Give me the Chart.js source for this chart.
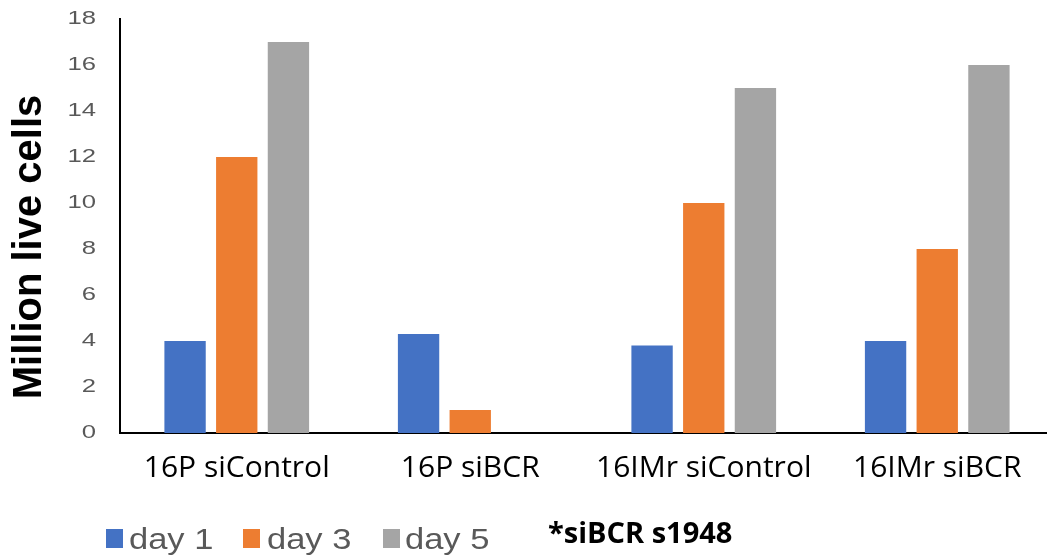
<!DOCTYPE html>
<html>
<head>
<meta charset="utf-8">
<script src="https://cdn.jsdelivr.net/npm/chart.js@4.4.1/dist/chart.umd.min.js"></script>
<style>
  html, body { margin: 0; padding: 0; background: #ffffff; overflow: hidden; }
  #wrap { position: relative; width: 1054px; height: 557px; }
  canvas { display: block; }
</style>
</head>
<body>
<div id="wrap"><canvas id="c" width="1054" height="557"></canvas></div>
<script>
// Cell counts (millions of live cells) per condition and day
const categories = ['16P siControl', '16P siBCR', '16IMr siControl', '16IMr siBCR'];
const day1 = [4, 4.3, 3.8, 4];
const day3 = [12, 1, 10, 8];
const day5 = [17, 0, 15, 16];
const seriesNames = ['day 1', 'day 3', 'day 5'];
const seriesColors = ['#4472C4', '#ED7D31', '#A5A5A5'];
const yMin = 0, yMax = 18, yStep = 2;
const yTitle = 'Million live cells';
const noteText = '*siBCR s1948';

// Y tick labels, drawn horizontally widened
const yLabels = {
  id: 'yLabels',
  afterDraw(chart) {
    const s = chart.scales.y, ctx = chart.ctx;
    ctx.save();
    ctx.font = '19px "Liberation Sans", Arial, sans-serif';
    ctx.fillStyle = '#595959';
    ctx.textAlign = 'right';
    ctx.textBaseline = 'middle';
    s.ticks.forEach(t => {
      ctx.save();
      ctx.translate(96, s.getPixelForValue(t.value));
      ctx.scale(1.35, 1);
      ctx.fillText(String(t.value), 0, 0);
      ctx.restore();
    });
    ctx.restore();
  }
};

// Rotated axis title
const yTitlePlugin = {
  id: 'yTitlePlugin',
  afterDraw(chart) {
    const ctx = chart.ctx;
    ctx.save();
    ctx.translate(30, 247);
    ctx.rotate(-Math.PI / 2);
    ctx.font = 'bold 40px "Liberation Sans", Arial, sans-serif';
    ctx.fillStyle = '#000000';
    ctx.textAlign = 'center';
    ctx.textBaseline = 'middle';
    ctx.fillText(yTitle, 0, 0);
    ctx.restore();
  }
};

// Legend row and the siRNA note beneath the plot
const legendRow = {
  id: 'legendRow',
  afterDraw(chart) {
    const ctx = chart.ctx;
    const boxX = [106, 243, 383];
    const textX = [129, 267, 405];
    ctx.save();
    chart.data.datasets.forEach((ds, i) => {
      ctx.fillStyle = ds.backgroundColor;
      ctx.fillRect(boxX[i], 529, 17, 19);
      ctx.save();
      ctx.translate(textX[i], 549);
      ctx.scale(1.15, 1);
      ctx.font = '30px "Liberation Sans", Arial, sans-serif';
      ctx.fillStyle = '#595959';
      ctx.textAlign = 'left';
      ctx.textBaseline = 'alphabetic';
      ctx.fillText(ds.label, 0, 0);
      ctx.restore();
    });
    ctx.font = 'bold 29px "Open Sans", sans-serif';
    ctx.fillStyle = '#000000';
    ctx.textAlign = 'left';
    ctx.textBaseline = 'alphabetic';
    ctx.fillText(noteText, 548, 543);
    ctx.restore();
  }
};

const seriesValues = [day1, day3, day5];

new Chart(document.getElementById('c'), {
  type: 'bar',
  data: {
    labels: categories,
    datasets: seriesNames.map((name, i) => ({
      label: name,
      data: seriesValues[i],
      backgroundColor: seriesColors[i],
      borderWidth: 0,
      barPercentage: 0.8,
      categoryPercentage: 0.664
    }))
  },
  options: {
    responsive: false,
    animation: false,
    layout: { padding: { top: 19, right: 0, bottom: 0, left: 0 } },
    plugins: {
      legend: { display: false },
      tooltip: { enabled: false }
    },
    scales: {
      x: {
        grid: { display: false, drawTicks: false },
        border: { display: true, color: '#000000', width: 2 },
        ticks: {
          color: '#000000',
          font: { family: '"Open Sans", sans-serif', size: 30 },
          padding: 17,
          autoSkip: false,
          maxRotation: 0,
          minRotation: 0
        },
        afterFit(scale) { scale.height = 124; }
      },
      y: {
        min: yMin,
        max: yMax,
        grid: { display: false, drawTicks: false },
        border: { display: true, color: '#000000', width: 2 },
        ticks: { stepSize: yStep, display: false },
        afterFit(scale) { scale.width = 120; }
      }
    }
  },
  plugins: [yLabels, yTitlePlugin, legendRow]
});
</script>
</body>
</html>
